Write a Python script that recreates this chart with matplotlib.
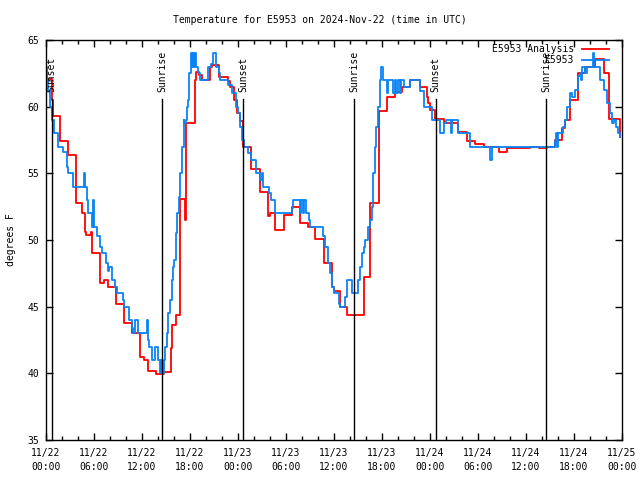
import pandas as pd
import matplotlib
matplotlib.use("Agg")
import matplotlib.pyplot as plt
import matplotlib.dates as mdates

plt.rcParams["font.family"] = ["DejaVu Sans Mono"]
plt.rcParams["font.size"] = 7

START = pd.Timestamp("2024-11-22 00:00")

# station observations: hours since start, degrees F (step data)
obs_hours = [
    0.0, 0.15, 0.3, 0.55, 0.7, 1.0, 1.5, 2.1, 2.6, 2.75, 3.4, 4.75, 4.9, 5.1,
    5.3, 5.75, 5.9, 6.05, 6.4, 6.75, 7.0, 7.5, 7.7, 7.9, 8.3, 8.6, 8.9, 9.6,
    9.75, 10.4, 10.7, 10.9, 11.1, 11.5, 12.6, 12.7, 12.9, 13.2, 13.6, 14.0,
    14.25, 14.4, 14.55, 14.7, 14.9, 15.1, 15.3, 15.5, 15.7, 15.9, 16.0, 16.2,
    16.4, 16.6, 16.8, 17.0, 17.2, 17.3, 17.45, 17.6, 17.75, 17.9, 18.1, 18.25,
    18.35, 18.5, 18.6, 18.8, 19.0, 19.3, 20.3, 20.6, 20.9, 21.2, 21.6, 21.75,
    22.8, 23.2, 23.8, 24.0, 24.2, 24.5, 24.8, 25.3, 25.6, 26.2, 26.3, 26.7,
    27.0, 27.1, 27.9, 28.1, 28.6, 30.7, 30.9, 31.7, 31.9, 32.1, 32.3, 32.5,
    32.9, 33.0, 34.6, 34.9, 35.2, 35.5, 35.8, 36.0, 36.6, 36.75, 37.4, 37.6,
    38.2, 39.05, 39.3, 39.5, 39.7, 39.9, 40.2, 40.5, 40.7, 40.9, 41.1, 41.3,
    41.5, 41.75, 41.9, 42.1, 42.6, 42.8, 43.4, 43.6, 43.8, 44.0, 44.2, 44.4,
    44.7, 45.5, 46.75, 47.2, 48.2, 49.25, 49.7, 49.95, 50.6, 50.8, 51.45,
    53.0, 55.5, 55.7, 63.6, 63.75, 63.85, 63.95, 64.6, 64.9, 65.1, 65.5, 65.8,
    66.1, 66.5, 66.75, 66.9, 67.0, 67.4, 67.6, 68.35, 68.5, 69.2, 69.8, 70.1,
    70.5, 70.75, 71.0, 71.2, 71.5, 71.75,
]
obs_temps = [
    63.0, 62.0, 61.2, 60.0, 59.0, 58.0, 57.0, 56.6, 55.5, 55.0, 54.0, 55.0,
    54.0, 53.0, 52.0, 51.0, 53.0, 51.0, 50.3, 49.5, 49.0, 48.3, 47.7, 48.0,
    47.0, 46.5, 46.0, 45.5, 45.0, 44.0, 43.4, 43.0, 44.0, 43.0, 44.0, 42.5,
    42.0, 41.0, 42.0, 41.0, 40.0, 41.0, 40.0, 41.0, 42.0, 43.0, 44.5, 45.5,
    47.0, 48.0, 48.5, 50.5, 52.0, 53.2, 55.0, 57.0, 59.0, 58.8, 59.0, 60.0,
    60.5, 62.5, 64.0, 63.0, 64.0, 63.0, 64.0, 63.0, 62.5, 62.0, 63.0, 63.2,
    64.0, 63.0, 62.5, 62.0, 61.6, 61.0, 60.0, 59.5, 58.5, 57.5, 57.0, 56.5,
    56.0, 55.5, 55.0, 54.5, 55.0, 54.0, 53.5, 53.0, 52.0, 52.4, 53.0, 52.0,
    53.0, 52.0, 53.0, 52.0, 51.5, 51.0, 50.3, 49.5, 48.3, 47.5, 46.5, 46.0,
    45.2, 45.0, 45.7, 47.0, 46.0, 47.0, 48.0, 49.0, 49.5, 50.0, 51.0, 51.5,
    52.5, 55.0, 57.0, 58.5, 60.0, 62.0, 63.0, 62.0, 61.0, 62.0, 61.0, 62.0,
    61.0, 62.0, 61.0, 62.0, 61.5, 62.0, 61.2, 60.0, 59.0, 58.0, 58.75, 59.0,
    58.0, 59.0, 58.0, 57.0, 56.0, 57.0, 57.4, 58.0, 57.0, 58.0, 58.5, 59.0,
    60.0, 61.0, 60.75, 61.25, 62.3, 62.5, 62.0, 63.0, 62.5, 63.0, 64.0, 63.0,
    62.0, 61.25, 60.25, 59.5, 58.75, 59.0, 58.5, 58.0, 57.75,
]

# analysis values
ana_hours = [
    0.4, 0.7, 0.83, 1.8, 2.8, 3.8, 4.5, 4.9, 5.0, 5.6, 5.75, 6.7, 7.2, 7.7,
    8.75, 9.8, 10.7, 11.8, 12.3, 12.75, 13.75, 14.7, 15.6, 15.8, 16.25, 16.75,
    17.35, 17.5, 18.6, 18.8, 19.1, 19.5, 20.5, 20.7, 21.6, 22.7, 23.0, 23.5,
    23.9, 24.2, 24.6, 25.6, 26.7, 27.8, 28.0, 28.6, 29.7, 30.7, 31.7, 32.7,
    33.6, 34.7, 35.7, 36.0, 36.7, 37.6, 39.7, 40.5, 41.6, 42.6, 43.6, 44.5,
    45.5, 46.75, 47.6, 47.8, 48.0, 48.6, 49.7, 51.5, 52.6, 53.6, 54.7, 56.6,
    57.6, 60.5, 61.6, 62.6, 63.6, 64.5, 64.9, 65.5, 66.5, 67.4, 68.6, 69.7,
    70.4, 71.7, 71.8,
]
ana_temps = [
    62.1, 60.5, 59.3, 57.4, 56.4, 52.8, 52.0, 50.6, 50.4, 50.6, 49.0, 46.75,
    47.0, 46.5, 45.2, 43.75, 43.0, 41.25, 41.0, 40.2, 39.95, 40.1, 41.9, 43.6,
    44.4, 53.1, 51.5, 58.75, 62.0, 62.6, 62.4, 62.0, 63.0, 63.1, 62.25, 61.9,
    61.5, 60.5, 59.5, 58.9, 56.95, 55.3, 53.6, 51.8, 52.0, 50.75, 51.9, 52.45,
    51.3, 51.0, 50.1, 48.3, 46.5, 46.2, 45.0, 44.4, 47.2, 52.8, 59.7, 60.75,
    61.1, 61.5, 62.0, 61.5, 60.75, 60.25, 59.75, 59.1, 58.75, 58.1, 57.4, 57.2,
    57.0, 56.6, 56.9, 57.0, 56.9, 57.0, 57.5, 58.4, 59.0, 60.5, 62.5, 63.0,
    63.6, 62.5, 59.1, 57.75, 57.75,
]

# sun events, hours since start
event_hours = [0.71, 14.54, 24.67, 38.54, 48.7, 62.5]
event_names = ["Sunset", "Sunrise", "Sunset", "Sunrise", "Sunset", "Sunrise"]


def to_time(hours):
    return START + pd.to_timedelta(hours, unit="h")


fig = plt.figure(figsize=(6.4, 4.8), dpi=100)
ax = fig.add_axes([46 / 640, 40 / 480, 576 / 640, 400 / 480])

red_line, = ax.plot(to_time(ana_hours), ana_temps, drawstyle="steps-post",
                    color="#ff0000", lw=1.3, label="E5953 Analysis")
blue_line, = ax.plot(to_time(obs_hours), obs_temps, drawstyle="steps-post",
                     color="#0a84f5", lw=1.3, label="E5953")

for h, name in zip(event_hours, event_names):
    t = to_time(h)
    ax.plot([t, t], [35, 60.55], color="black", lw=1)
    ax.text(t, 61.1, name, rotation=90, ha="center", va="bottom", fontsize=7)

ax.set_xlim(START, START + pd.Timedelta(hours=72))
ax.set_ylim(35, 65)
ax.set_yticks(range(35, 66, 5))
ax.xaxis.set_major_locator(mdates.HourLocator(byhour=[0, 6, 12, 18]))
ax.xaxis.set_minor_locator(mdates.HourLocator(byhour=range(0, 24, 2)))
ax.xaxis.set_major_formatter(mdates.DateFormatter("%m/%d\n%H:%M"))
ax.tick_params(which="both", direction="in", top=True, right=True,
               labelsize=7, width=1)
ax.tick_params(which="major", length=5)
ax.tick_params(which="minor", length=3)
ax.tick_params(axis="x", pad=6)
ax.tick_params(axis="y", pad=5)
for s in ax.spines.values():
    s.set_linewidth(1)

ax.set_ylabel("degrees F", fontsize=7, labelpad=8)
fig.text(0.5, 1 - 20 / 480, "Temperature for E5953 on 2024-Nov-22 (time in UTC)",
         ha="center", va="center", fontsize=7)

ax.legend(handles=[red_line, blue_line], loc="upper right",
          bbox_to_anchor=(0.9774, 0.99), markerfirst=False, frameon=False,
          borderpad=0, borderaxespad=0, handlelength=2.8, handletextpad=0.8,
          labelspacing=0.15, fontsize=7)

fig.canvas.draw()
for lbl in ax.get_xticklabels():
    lbl.set_linespacing(1.45)

fig.savefig("out.png", dpi=100)
